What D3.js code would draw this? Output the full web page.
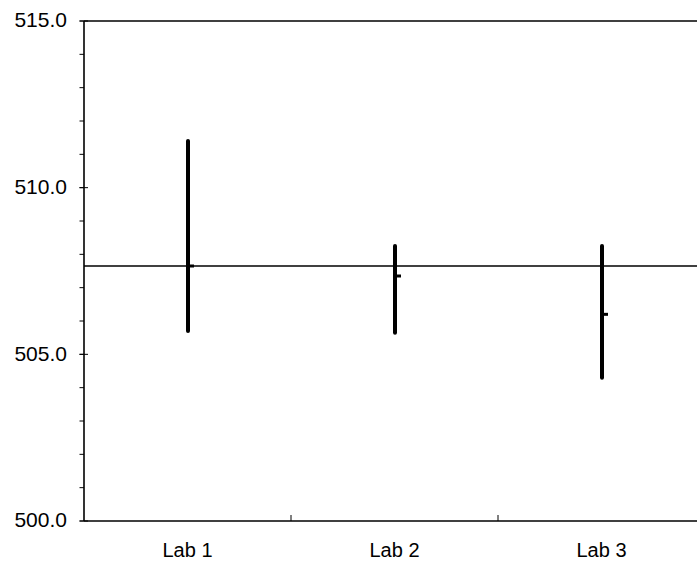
<!DOCTYPE html>
<html>
<head>
<meta charset="utf-8">
<script src="https://cdn.jsdelivr.net/npm/d3@7"></script>
<style>
  html, body { margin: 0; padding: 0; background: #fff; }
  svg { display: block; }
  text { font-family: Arial, "Liberation Sans", sans-serif; fill: #000; }
</style>
</head>
<body>
<svg id="chart" width="697" height="570"></svg>
<script>
const labs = ["Lab 1", "Lab 2", "Lab 3"];
const means = [507.65, 507.35, 506.2];
const lows = [505.7, 505.65, 504.3];
const highs = [511.4, 508.25, 508.25];
const refValue = 507.65;
const majorTicks = [500, 505, 510, 515];
const minorTicks = d3.range(500, 516, 1);

(function () {
const svg = d3.select("#chart");
const mLeft = 84, mTop = 21, mBottom = 521, mRight = 705;

const x = d3.scaleBand().domain(labs).range([mLeft, mRight]).paddingInner(0).paddingOuter(0);
const y = d3.scaleLinear().domain([500, 515]).range([mBottom, mTop]);

// minor ticks (outside)
svg.append("g").selectAll("line").data(minorTicks).join("line")
  .attr("x1", mLeft - 4.5).attr("x2", mLeft)
  .attr("y1", d => y(d)).attr("y2", d => y(d))
  .attr("stroke", "#000").attr("stroke-width", 1);

// major ticks (crossing)
svg.append("g").selectAll("line").data(majorTicks).join("line")
  .attr("x1", mLeft - 4.5).attr("x2", mLeft + 4)
  .attr("y1", d => y(d)).attr("y2", d => y(d))
  .attr("stroke", "#000").attr("stroke-width", 1);

// y labels
svg.append("g").selectAll("text").data(majorTicks).join("text")
  .attr("x", mLeft - 17).attr("y", d => y(d))
  .attr("dy", "0.3em")
  .attr("text-anchor", "end")
  .attr("font-size", 21)
  .text(d => d3.format(".1f")(d));

// x ticks between categories
svg.append("g").selectAll("line").data(labs.slice(1)).join("line")
  .attr("x1", d => x(d)).attr("x2", d => x(d))
  .attr("y1", mBottom - 6).attr("y2", mBottom)
  .attr("stroke", "#000").attr("stroke-width", 1);

// x labels
svg.append("g").selectAll("text").data(labs).join("text")
  .attr("x", d => x(d) + x.bandwidth() / 2)
  .attr("y", 557)
  .attr("text-anchor", "middle")
  .attr("font-size", 20)
  .text(d => d);

// frame: left axis, bottom axis, top line
svg.append("line").attr("x1", mLeft).attr("x2", mLeft).attr("y1", mTop).attr("y2", mBottom)
  .attr("stroke", "#000").attr("stroke-width", 1.6);
svg.append("line").attr("x1", mLeft).attr("x2", mRight).attr("y1", mBottom).attr("y2", mBottom)
  .attr("stroke", "#000").attr("stroke-width", 1.6);
svg.append("line").attr("x1", mLeft).attr("x2", mRight).attr("y1", mTop).attr("y2", mTop)
  .attr("stroke", "#000").attr("stroke-width", 1.6);

// reference line
svg.append("line").attr("x1", mLeft).attr("x2", mRight)
  .attr("y1", y(refValue)).attr("y2", y(refValue))
  .attr("stroke", "#000").attr("stroke-width", 1.6);

// range bars
const cx = (d, i) => x(labs[i]) + x.bandwidth() / 2 + 0.5;
svg.append("g").selectAll("line").data(labs).join("line")
  .attr("x1", cx).attr("x2", cx)
  .attr("y1", (d, i) => y(highs[i])).attr("y2", (d, i) => y(lows[i]))
  .attr("stroke", "#000").attr("stroke-width", 4).attr("stroke-linecap", "round");

// mean markers
svg.append("g").selectAll("line").data(labs).join("line")
  .attr("x1", cx).attr("x2", (d, i) => cx(d, i) + 6)
  .attr("y1", (d, i) => y(means[i])).attr("y2", (d, i) => y(means[i]))
  .attr("stroke", "#000").attr("stroke-width", 3);
})();
</script>
</body>
</html>
